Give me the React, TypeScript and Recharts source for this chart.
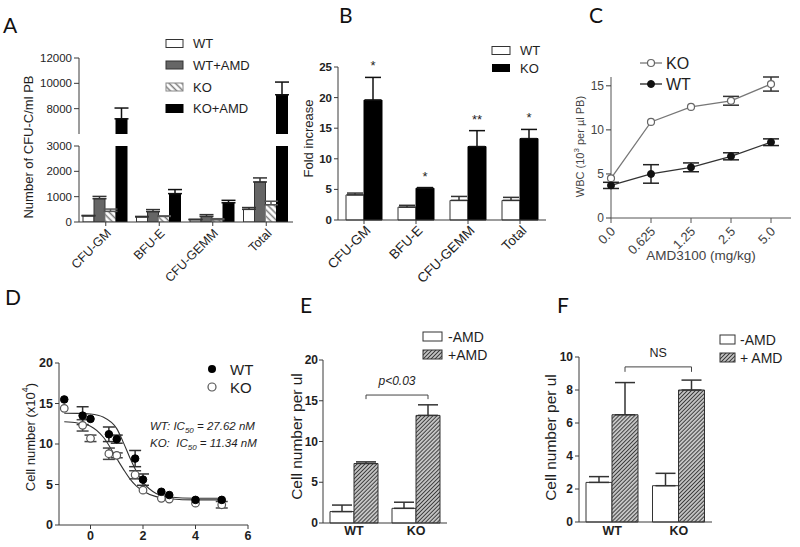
import React from 'react';
import {
  BarChart,
  Bar,
  XAxis,
  YAxis,
  ErrorBar,
  LineChart,
  Line,
  ComposedChart,
} from 'recharts';

const FONT = '"Liberation Sans", Arial, Helvetica, sans-serif';
const INK = '#1e1e1e';
const AXIS = '#3a3a3a';
const GREY_TXT = '#444';

// ---- A: CFU-C per ml PB (broken axis 0-3000 / 6000-12000)
const cfuCats = ['CFU-GM', 'BFU-E', 'CFU-GEMM', 'Total'];
const aWT = [240, 200, 90, 500];
const aWTErr = [20, 20, 20, 70];
const aWTAmd = [920, 410, 220, 1580];
const aWTAmdErr = [90, 80, 70, 160];
const aKO = [420, 220, 90, 680];
const aKOErr = [90, 20, 40, 140];
const aKOAmd = [7200, 1120, 760, 9100];
const aKOAmdErr = [850, 160, 95, 1000];
const aLowTicks = [0, 500, 1000, 1500, 2000, 2500, 3000];
const aLowMajor = [0, 1000, 2000, 3000];
const aHighTicks = [6000, 7000, 8000, 9000, 10000, 11000, 12000];
const aHighMajor = [6000, 8000, 10000, 12000];
const A_LOW_MAX = 3000;
const A_HIGH_MIN = 6000;
const A_HIGH_MAX = 12000;

// ---- B: fold increase
const bWT = [4.1, 2.1, 3.2, 3.2];
const bWTErr = [0.3, 0.3, 0.65, 0.5];
const bKO = [19.6, 5.2, 12.0, 13.3];
const bKOErr = [3.7, 0.1, 2.6, 1.5];
const bStars = ['*', '*', '**', '*'];
const bTicks = [0, 5, 10, 15, 20, 25];

// ---- C: WBC vs AMD3100 dose
const doseCats = ['0.0', '0.625', '1.25', '2.5', '5.0'];
const cKO = [4.5, 10.9, 12.6, 13.3, 15.2];
const cKOErr = [null, null, null, 0.5, 0.8];
const cWT = [3.7, 5.0, 5.75, 7.0, 8.6];
const cWTErr = [0.35, 1.05, 0.5, 0.4, 0.38];
const cTicks = [0, 2.5, 5, 7.5, 10, 12.5, 15];
const cMajor = [0, 5, 10, 15];

// ---- D: dose response (log nM)
const logConc = [-1, -0.3, 0, 0.7, 1, 1.7, 2, 2.7, 3, 4, 5];
const dWT = [15.5, 13.5, 13.1, 11.2, 10.6, 8.2, 5.6, 4.1, 3.7, 3.1, 3.1];
const dWTErr = [null, 1.1, null, 0.9, 0.5, 1.0, 0.7, null, null, null, null];
const dKO = [14.4, 12.3, 10.7, 8.8, 8.6, 6.2, 4.3, 3.3, 3.2, 2.7, 2.5];
const dKOErr = [null, 0.7, 0.4, 0.7, 0.3, 0.5, null, null, null, null, 0.4];
const fitX = [-1, -0.5, 0, 0.5, 1, 1.25, 1.5, 1.75, 2, 2.5, 3, 4, 5];
const fitWT = [13.8, 13.78, 13.7, 13.3, 11.9, 10.2, 8.3, 6.6, 5.3, 3.9, 3.45, 3.3, 3.3];
const fitKO = [12.75, 12.6, 12.2, 10.8, 8.2, 6.9, 5.7, 4.8, 4.2, 3.5, 3.25, 3.1, 3.1];
const dXTicks = [0, 2, 4, 6];
const dYTicks = [0, 5, 10, 15, 20];

// ---- E / F: cells per ul
const groups = ['WT', 'KO'];
const eMinus = [1.4, 1.8];
const eMinusErr = [0.8, 0.75];
const ePlus = [7.3, 13.2];
const ePlusErr = [0.2, 1.3];
const fMinus = [2.4, 2.2];
const fMinusErr = [0.35, 0.75];
const fPlus = [6.5, 8.0];
const fPlusErr = [1.95, 0.6];
const eTicks = [0, 5, 10, 15, 20];
const fTicks = [0, 2, 4, 6, 8, 10];
const eBracket = { y: 15.7, leg: 15.2, text: 'p<0.03', italic: true, size: 12, gap: 10 };
const fBracket = { y: 9.4, leg: 9.1, text: 'NS', italic: false, size: 12.5, gap: 10 };

// chart boxes for E/F (plot width / 2 = one category band)
const E_W = 174;
const F_W = 183;
const EF_YW = 40;
const EF_RIGHT = 10;

// ---- tables for the library
const aLowRows = cfuCats.map((cat, i) => ({
  cat,
  wt: aWT[i],
  wtErr: [0, aWTErr[i]],
  wtAmd: aWTAmd[i],
  wtAmdErr: [0, aWTAmdErr[i]],
  ko: aKO[i],
  koErr: [0, aKOErr[i]],
  koAmd: aKOAmd[i],
  koAmdErr: aKOAmd[i] < A_LOW_MAX ? [0, aKOAmdErr[i]] : null,
}));
const aHighRows = cfuCats.map((cat, i) => ({
  cat,
  wt: null,
  wtAmd: null,
  ko: null,
  koAmd: aKOAmd[i] > A_HIGH_MIN ? aKOAmd[i] : null,
  koAmdErr: aKOAmd[i] > A_HIGH_MIN ? [0, aKOAmdErr[i]] : null,
}));
const bRows = cfuCats.map((cat, i) => ({
  cat,
  wt: bWT[i],
  wtErr: [0, bWTErr[i]],
  ko: bKO[i],
  koErr: [0, bKOErr[i]],
}));
const cRows = doseCats.map((dose, i) => ({
  dose,
  ko: cKO[i],
  koErr: cKOErr[i],
  wt: cWT[i],
  wtErr: cWTErr[i],
}));
const dXs = Array.from(new Set([...logConc, ...fitX])).sort((a, b) => a - b);
const dRows = dXs.map((x) => {
  const i = logConc.indexOf(x);
  const j = fitX.indexOf(x);
  return {
    x,
    wt: i >= 0 ? dWT[i] : null,
    wtErr: i >= 0 ? dWTErr[i] : null,
    ko: i >= 0 ? dKO[i] : null,
    koErr: i >= 0 ? dKOErr[i] : null,
    wtFit: j >= 0 ? fitWT[j] : null,
    koFit: j >= 0 ? fitKO[j] : null,
  };
});
const eRows = groups.map((g, i) => ({
  g,
  minus: eMinus[i],
  minusErr: [0, eMinusErr[i]],
  plus: ePlus[i],
  plusErr: [0, ePlusErr[i]],
}));
const fRows = groups.map((g, i) => ({
  g,
  minus: fMinus[i],
  minusErr: [0, fMinusErr[i]],
  plus: fPlus[i],
  plusErr: [0, fPlusErr[i]],
}));

// ---- small render helpers
type TickOpts = { majors?: number[]; size: number; margin: number; font: number; bold?: boolean; color?: string };

const yTick = (o: TickOpts) => (p: any) => {
  const v = p.payload.value;
  const major = !o.majors || o.majors.includes(v);
  const ax = p.x + o.size + o.margin;
  const len = major ? o.size : o.size * 0.55;
  return (
    <g>
      <line x1={ax - len} x2={ax} y1={p.y} y2={p.y} stroke={AXIS} strokeWidth={1} />
      {major && (
        <text
          x={p.x}
          y={p.y}
          dy="0.35em"
          textAnchor="end"
          fontSize={o.font}
          fontWeight={o.bold ? 700 : 400}
          fill={o.color ?? INK}
          fontFamily={FONT}
        >
          {v}
        </text>
      )}
    </g>
  );
};

const xTickRot = (o: { font: number; dx: number; dy: number; color?: string }) => (p: any) => (
  <g transform={`translate(${p.x + o.dx},${p.y + o.dy})`}>
    <text textAnchor="end" dy="0.35em" transform="rotate(-45)" fontSize={o.font} fill={o.color ?? INK} fontFamily={FONT}>
      {p.payload.value}
    </text>
  </g>
);

const xTickFlat = (o: { font: number; bold?: boolean }) => (p: any) => (
  <text
    x={p.x}
    y={p.y}
    dy="0.8em"
    textAnchor="middle"
    fontSize={o.font}
    fontWeight={o.bold ? 700 : 400}
    fill={INK}
    fontFamily={FONT}
  >
    {p.payload.value}
  </text>
);

// rotated axis title, placed relative to the axis box
const yTitle = (content: React.ReactNode, dx: number, size: number, dy = 0, color = INK) => (p: any) => {
  const vb = p.viewBox ?? {};
  const cx = (vb.x ?? 0) + dx;
  const cy = (vb.y ?? 0) + (vb.height ?? 0) / 2 + dy;
  return (
    <text
      x={cx}
      y={cy}
      transform={`rotate(-90 ${cx} ${cy})`}
      textAnchor="middle"
      dominantBaseline="central"
      fontSize={size}
      fill={color}
      fontFamily={FONT}
    >
      {content}
    </text>
  );
};

const xTitle = (text: string, dy: number, size: number, color = INK) => (p: any) => {
  const vb = p.viewBox ?? {};
  return (
    <text
      x={(vb.x ?? 0) + (vb.width ?? 0) / 2}
      y={(vb.y ?? 0) + dy}
      textAnchor="middle"
      dominantBaseline="central"
      fontSize={size}
      fill={color}
      fontFamily={FONT}
    >
      {text}
    </text>
  );
};

// asterisks sit just above the KO error cap
const starLabel = (p: any) => {
  const vb = p.viewBox ?? p;
  const i = p.index;
  if (i == null || !bStars[i] || !vb.height) return null;
  const perUnit = vb.height / bKO[i];
  const capY = vb.y - bKOErr[i] * perUnit;
  return (
    <text x={vb.x + vb.width / 2} y={capY - 7} textAnchor="middle" fontSize={13} fill={INK} fontFamily={FONT}>
      {bStars[i]}
    </text>
  );
};

// significance bracket between the two "+AMD" bars, hung on the first bar's label
type Bracket = { y: number; leg: number; text: string; italic: boolean; size: number; gap: number };
const bracketLabel = (b: Bracket, values: number[], band: number) => (p: any) => {
  const vb = p.viewBox ?? p;
  if (p.index !== 0 || !vb.height) return null;
  const perUnit = vb.height / values[0];
  const base = vb.y + vb.height;
  const y = base - b.y * perUnit;
  const yLeg = base - b.leg * perUnit;
  const x1 = vb.x + vb.width / 2;
  const x2 = x1 + band;
  return (
    <g>
      <path d={`M${x1},${yLeg}V${y}H${x2}V${yLeg}`} fill="none" stroke="#444" strokeWidth={1} />
      <text
        x={(x1 + x2) / 2}
        y={y - b.gap}
        textAnchor="middle"
        fontSize={b.size}
        fontStyle={b.italic ? 'italic' : 'normal'}
        fill={INK}
        fontFamily={FONT}
      >
        {b.text}
      </text>
    </g>
  );
};

const place = (left: number, top: number): React.CSSProperties => ({ position: 'absolute', left, top });

const Overlay = () => (
  <svg
    width={800}
    height={547}
    style={{ position: 'absolute', left: 0, top: 0, pointerEvents: 'none' }}
    fontFamily={FONT}
  >
    <defs>
      <pattern id="hatchA" patternUnits="userSpaceOnUse" width={4.5} height={4.5} patternTransform="rotate(-45)">
        <rect width={4.5} height={4.5} fill="#fff" />
        <line x1={2.2} y1={0} x2={2.2} y2={4.5} stroke="#7a7a7a" strokeWidth={1.5} />
      </pattern>
      <pattern id="hatchE" patternUnits="userSpaceOnUse" width={2.8} height={2.8} patternTransform="rotate(45)">
        <rect width={2.8} height={2.8} fill="#c4c4c4" />
        <line x1={1.4} y1={0} x2={1.4} y2={2.8} stroke="#333" strokeWidth={0.9} />
      </pattern>
    </defs>

    {/* panel letters */}
    <g fontFamily="Lato, 'Open Sans', sans-serif" fontSize={21} fill="#111">
      <text x={3} y={33}>A</text>
      <text x={339} y={23}>B</text>
      <text x={589} y={23}>C</text>
      <text x={5} y={305}>D</text>
      <text x={300} y={313}>E</text>
      <text x={557} y={313}>F</text>
    </g>

    {/* A legend */}
    <g fontSize={13} fill={INK}>
      <rect x={166} y={39.5} width={17} height={8} fill="#fff" stroke="#333" />
      <text x={193} y={43.5} dominantBaseline="central">WT</text>
      <rect x={166} y={61} width={17} height={8} fill="#666" stroke="#333" />
      <text x={193} y={65} dominantBaseline="central">WT+AMD</text>
      <rect x={166} y={83} width={17} height={8} fill="url(#hatchA)" stroke="#888" />
      <text x={193} y={87} dominantBaseline="central">KO</text>
      <rect x={166} y={104.5} width={17} height={8} fill="#000" stroke="#000" />
      <text x={193} y={108.5} dominantBaseline="central">KO+AMD</text>
    </g>

    {/* B legend */}
    <g fontSize={13} fill={INK}>
      <rect x={492} y={46.5} width={18} height={8} fill="#fff" stroke="#333" />
      <text x={520} y={50.5} dominantBaseline="central">WT</text>
      <rect x={492} y={64} width={18} height={8} fill="#000" />
      <text x={520} y={68} dominantBaseline="central">KO</text>
    </g>

    {/* C legend */}
    <g fontSize={16} fill={INK}>
      <line x1={640} x2={662} y1={63} y2={63} stroke="#777" strokeWidth={1.3} />
      <circle cx={651} cy={63} r={3.5} fill="#fff" stroke="#666" strokeWidth={1.2} />
      <text x={666} y={63} dominantBaseline="central">KO</text>
      <line x1={640} x2={662} y1={84} y2={84} stroke="#222" strokeWidth={1.3} />
      <circle cx={651} cy={84} r={3.5} fill="#111" stroke="#111" />
      <text x={666} y={84} dominantBaseline="central">WT</text>
    </g>

    {/* D legend and IC50 notes */}
    <g fontSize={15} fill={INK}>
      <circle cx={212} cy={369} r={4} fill="#000" />
      <text x={230} y={369} dominantBaseline="central">WT</text>
      <circle cx={212} cy={387} r={4} fill="#fff" stroke="#555" strokeWidth={1.2} />
      <text x={230} y={387} dominantBaseline="central">KO</text>
    </g>
    <g fontSize={11.5} fontStyle="italic" fill={INK}>
      <text x={150} y={430}>
        WT: IC<tspan fontSize={8} dy={3}>50</tspan>
        <tspan dy={-3}> = 27.62 nM</tspan>
      </text>
      <text x={150} y={447} xmlSpace="preserve">
        KO:  IC<tspan fontSize={8} dy={3}>50</tspan>
        <tspan dy={-3}> = 11.34 nM</tspan>
      </text>
    </g>

    {/* E legend */}
    <g fontSize={14} fill={INK}>
      <rect x={423} y={332} width={19} height={9} fill="#fff" stroke="#333" />
      <text x={448} y={336.5} dominantBaseline="central">-AMD</text>
      <rect x={423} y={350} width={19} height={9} fill="url(#hatchE)" stroke="#333" />
      <text x={448} y={354.5} dominantBaseline="central">+AMD</text>
    </g>

    {/* F legend */}
    <g fontSize={14} fill={INK}>
      <rect x={720} y={335} width={15} height={9} fill="#fff" stroke="#333" />
      <text x={740} y={339.5} dominantBaseline="central">-AMD</text>
      <rect x={720} y={353} width={15} height={9} fill="url(#hatchE)" stroke="#333" />
      <text x={740} y={357.5} dominantBaseline="central">+ AMD</text>
    </g>
  </svg>
);

export default function App() {
  const eBand = (E_W - EF_YW - EF_RIGHT) / 2;
  const fBand = (F_W - EF_YW - EF_RIGHT) / 2;
  return (
    <div
      style={{
        position: 'absolute',
        left: 0,
        top: 0,
        width: 800,
        height: 547,
        overflow: 'hidden',
        background: '#fff',
        fontFamily: FONT,
      }}
    >
      {/* A, upper segment of the broken axis */}
      <div style={place(19, 48)}>
        <BarChart
          width={284}
          height={86}
          data={aHighRows}
          margin={{ top: 10, right: 10, bottom: 0, left: 0 }}
          barCategoryGap={4}
          barGap={0}
        >
          <XAxis dataKey="cat" hide />
          <YAxis
            width={60}
            domain={[A_HIGH_MIN, A_HIGH_MAX]}
            ticks={aHighTicks}
            allowDataOverflow
            tickLine={false}
            tickSize={5}
            tickMargin={2}
            stroke={AXIS}
            tick={yTick({ majors: aHighMajor, size: 5, margin: 2, font: 11.5 })}
          />
          <Bar dataKey="wt" fill="#fff" isAnimationActive={false} />
          <Bar dataKey="wtAmd" fill="#666" isAnimationActive={false} />
          <Bar dataKey="ko" fill="url(#hatchA)" isAnimationActive={false} />
          <Bar dataKey="koAmd" fill="#000" stroke="#000" isAnimationActive={false}>
            <ErrorBar dataKey="koAmdErr" width={7} stroke="#111" isAnimationActive={false} />
          </Bar>
        </BarChart>
      </div>

      {/* A, lower segment (tall top margin leaves room for the axis title) */}
      <div style={place(19, 36)}>
        <BarChart
          width={284}
          height={256}
          data={aLowRows}
          margin={{ top: 110, right: 10, bottom: 0, left: 0 }}
          barCategoryGap={4}
          barGap={0}
        >
          <XAxis
            dataKey="cat"
            interval={0}
            tickSize={4}
            tickMargin={2}
            stroke={AXIS}
            height={70}
            tick={xTickRot({ font: 12.5, dx: 3, dy: 3 })}
          />
          <YAxis
            width={60}
            domain={[0, A_LOW_MAX]}
            ticks={aLowTicks}
            allowDataOverflow
            tickLine={false}
            tickSize={5}
            tickMargin={2}
            stroke={AXIS}
            tick={yTick({ majors: aLowMajor, size: 5, margin: 2, font: 11.5 })}
            label={yTitle('Number of CFU-C/ml PB', 9, 13, -37)}
          />
          <Bar dataKey="wt" fill="#fff" stroke="#333" isAnimationActive={false}>
            <ErrorBar dataKey="wtErr" width={7} stroke="#333" isAnimationActive={false} />
          </Bar>
          <Bar dataKey="wtAmd" fill="#666" stroke="#333" isAnimationActive={false}>
            <ErrorBar dataKey="wtAmdErr" width={7} stroke="#333" isAnimationActive={false} />
          </Bar>
          <Bar dataKey="ko" fill="url(#hatchA)" stroke="#888" isAnimationActive={false}>
            <ErrorBar dataKey="koErr" width={7} stroke="#555" isAnimationActive={false} />
          </Bar>
          <Bar dataKey="koAmd" fill="#000" stroke="#000" isAnimationActive={false}>
            <ErrorBar dataKey="koAmdErr" width={7} stroke="#111" isAnimationActive={false} />
          </Bar>
        </BarChart>
      </div>

      {/* B */}
      <div style={place(288, 57)}>
        <BarChart
          width={268}
          height={233}
          data={bRows}
          margin={{ top: 10, right: 10, bottom: 0, left: 0 }}
          barCategoryGap={8}
          barGap={0}
        >
          <XAxis
            dataKey="cat"
            interval={0}
            tickSize={4}
            tickMargin={2}
            stroke={AXIS}
            height={70}
            tick={xTickRot({ font: 13.5, dx: 4, dy: 2 })}
          />
          <YAxis
            width={50}
            domain={[0, 25]}
            ticks={bTicks}
            tickLine={false}
            tickSize={4}
            tickMargin={2}
            stroke={AXIS}
            tick={yTick({ size: 4, margin: 2, font: 11.5, bold: true })}
            label={yTitle('Fold increase', 20, 13, -5)}
          />
          <Bar dataKey="wt" fill="#fff" stroke="#333" isAnimationActive={false}>
            <ErrorBar dataKey="wtErr" width={8} stroke="#333" isAnimationActive={false} />
          </Bar>
          <Bar dataKey="ko" fill="#000" stroke="#000" isAnimationActive={false} label={starLabel}>
            <ErrorBar dataKey="koErr" width={8} stroke="#111" isAnimationActive={false} />
          </Bar>
        </BarChart>
      </div>

      {/* C */}
      <div style={place(551, 67)}>
        <LineChart width={248} height={196} data={cRows} margin={{ top: 10, right: 8, bottom: 0, left: 0 }}>
          <XAxis
            dataKey="dose"
            interval={0}
            padding={{ left: 0, right: 20 }}
            tickSize={5}
            tickMargin={2}
            stroke="#555"
            height={45}
            tick={xTickRot({ font: 13, dx: 2, dy: 4, color: GREY_TXT })}
            label={xTitle('AMD3100 (mg/kg)', 37, 13.5, GREY_TXT)}
          />
          <YAxis
            width={60}
            domain={[0, 16]}
            ticks={cTicks}
            tickLine={false}
            tickSize={5}
            tickMargin={2}
            stroke="#555"
            tick={yTick({ majors: cMajor, size: 5, margin: 2, font: 12, color: GREY_TXT })}
            label={yTitle(
              <>
                WBC (10
                <tspan dy={-4} fontSize={8}>
                  3
                </tspan>
                <tspan dy={4}> per µl PB)</tspan>
              </>,
              29,
              11,
              -1,
              GREY_TXT,
            )}
          />
          <Line
            dataKey="ko"
            stroke="#777"
            strokeWidth={1.3}
            dot={{ r: 3.5, fill: '#fff', stroke: '#666', strokeWidth: 1.2 }}
            activeDot={false}
            isAnimationActive={false}
          >
            <ErrorBar dataKey="koErr" width={8} stroke="#333" isAnimationActive={false} />
          </Line>
          <Line
            dataKey="wt"
            stroke="#333"
            strokeWidth={1.3}
            dot={{ r: 3.5, fill: '#111', stroke: '#111', strokeWidth: 1 }}
            activeDot={false}
            isAnimationActive={false}
          >
            <ErrorBar dataKey="wtErr" width={8} stroke="#222" isAnimationActive={false} />
          </Line>
        </LineChart>
      </div>

      {/* D */}
      <div style={place(19, 353)}>
        <ComposedChart width={239} height={194} data={dRows} margin={{ top: 10, right: 10, bottom: 0, left: 0 }}>
          <XAxis
            dataKey="x"
            type="number"
            domain={[-1.2, 6]}
            ticks={dXTicks}
            allowDataOverflow
            tickSize={4}
            tickMargin={1}
            stroke={AXIS}
            height={22}
            tick={xTickFlat({ font: 12.5, bold: true })}
          />
          <YAxis
            width={40}
            domain={[0, 20]}
            ticks={dYTicks}
            tickLine={false}
            tickSize={4}
            tickMargin={2}
            stroke={AXIS}
            tick={yTick({ size: 4, margin: 2, font: 12.5, bold: true })}
            label={yTitle(
              <>
                Cell number (x10
                <tspan dy={-5} fontSize={9}>
                  4
                </tspan>
                <tspan dy={5}>)</tspan>
              </>,
              11,
              13,
              -7,
            )}
          />
          <Line dataKey="wtFit" type="monotone" stroke="#333" strokeWidth={1.1} dot={false} activeDot={false} connectNulls isAnimationActive={false} />
          <Line dataKey="koFit" type="monotone" stroke="#333" strokeWidth={1.1} dot={false} activeDot={false} connectNulls isAnimationActive={false} />
          <Line
            dataKey="ko"
            stroke="none"
            dot={{ r: 3.8, fill: '#fff', stroke: '#555', strokeWidth: 1.2 }}
            activeDot={false}
            isAnimationActive={false}
          >
            <ErrorBar dataKey="koErr" width={6} stroke="#444" isAnimationActive={false} />
          </Line>
          <Line
            dataKey="wt"
            stroke="none"
            dot={{ r: 3.8, fill: '#000', stroke: '#000', strokeWidth: 1 }}
            activeDot={false}
            isAnimationActive={false}
          >
            <ErrorBar dataKey="wtErr" width={6} stroke="#333" isAnimationActive={false} />
          </Line>
        </ComposedChart>
      </div>

      {/* E */}
      <div style={place(283, 350)}>
        <BarChart
          width={E_W}
          height={195}
          data={eRows}
          margin={{ top: 10, right: EF_RIGHT, bottom: 0, left: 0 }}
          barCategoryGap={7}
          barGap={0}
        >
          <XAxis
            dataKey="g"
            interval={0}
            tickLine={false}
            tickSize={0}
            tickMargin={2}
            stroke={AXIS}
            height={22}
            tick={xTickFlat({ font: 12.5, bold: true })}
          />
          <YAxis
            width={EF_YW}
            domain={[0, 20]}
            ticks={eTicks}
            tickLine={false}
            tickSize={4}
            tickMargin={1}
            stroke={AXIS}
            tick={yTick({ size: 4, margin: 1, font: 12, bold: true })}
            label={yTitle('Cell number per ul', 13, 15.5, -5)}
          />
          <Bar dataKey="minus" fill="#fff" stroke="#333" isAnimationActive={false}>
            <ErrorBar dataKey="minusErr" width={10} stroke="#333" isAnimationActive={false} />
          </Bar>
          <Bar
            dataKey="plus"
            fill="url(#hatchE)"
            stroke="#333"
            isAnimationActive={false}
            label={bracketLabel(eBracket, ePlus, eBand)}
          >
            <ErrorBar dataKey="plusErr" width={10} stroke="#333" isAnimationActive={false} />
          </Bar>
        </BarChart>
      </div>

      {/* F */}
      <div style={place(539, 347)}>
        <BarChart
          width={F_W}
          height={197}
          data={fRows}
          margin={{ top: 10, right: EF_RIGHT, bottom: 0, left: 0 }}
          barCategoryGap={7}
          barGap={0}
        >
          <XAxis
            dataKey="g"
            interval={0}
            tickLine={false}
            tickSize={0}
            tickMargin={3}
            stroke={AXIS}
            height={22}
            tick={xTickFlat({ font: 12.5, bold: true })}
          />
          <YAxis
            width={EF_YW}
            domain={[0, 10]}
            ticks={fTicks}
            tickLine={false}
            tickSize={4}
            tickMargin={2}
            stroke={AXIS}
            tick={yTick({ size: 4, margin: 2, font: 12, bold: true })}
            label={yTitle('Cell number per ul', 11, 15.5, -2)}
          />
          <Bar dataKey="minus" fill="#fff" stroke="#333" isAnimationActive={false}>
            <ErrorBar dataKey="minusErr" width={10} stroke="#333" isAnimationActive={false} />
          </Bar>
          <Bar
            dataKey="plus"
            fill="url(#hatchE)"
            stroke="#333"
            isAnimationActive={false}
            label={bracketLabel(fBracket, fPlus, fBand)}
          >
            <ErrorBar dataKey="plusErr" width={10} stroke="#333" isAnimationActive={false} />
          </Bar>
        </BarChart>
      </div>

      <Overlay />
    </div>
  );
}
